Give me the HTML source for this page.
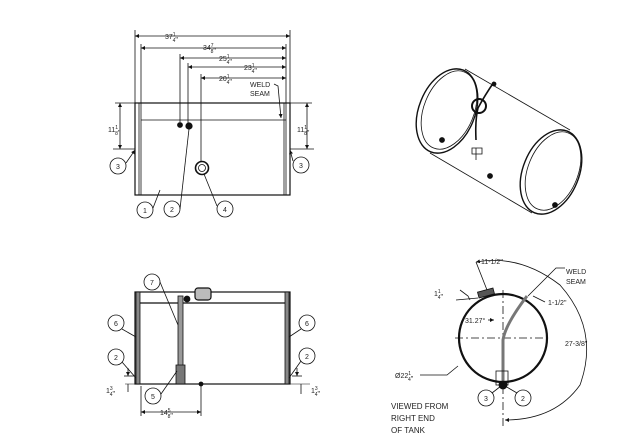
<!DOCTYPE html>
<html><head><style>
html,body{margin:0;padding:0;background:#fff;width:640px;height:436px;overflow:hidden}
svg{display:block;font-family:"Liberation Sans",sans-serif}
text{font-size:7px;fill:#222}
.f{font-size:5px}
</style></head><body>
<svg width="640" height="436" viewBox="0 0 640 436" xmlns="http://www.w3.org/2000/svg">
<defs><marker id="a" viewBox="0 0 6 6" refX="6" refY="3" markerWidth="5" markerHeight="5" orient="auto-start-reverse"><path d="M0,0L6,3L0,6z" fill="#111"/></marker></defs>
<g stroke="#111" fill="none" stroke-width="0.8">
<!-- TOP VIEW -->
<rect x="135" y="103" width="155" height="92" stroke-width="1.2"/>
<line x1="139" y1="103" x2="139" y2="195"/><line x1="141" y1="103" x2="141" y2="195"/>
<line x1="286" y1="103" x2="286" y2="195"/><line x1="284" y1="103" x2="284" y2="195"/>
<line x1="115" y1="103" x2="312" y2="103"/>
<line x1="141" y1="120" x2="286" y2="120"/>
<line x1="135" y1="30" x2="135" y2="103"/><line x1="290" y1="30" x2="290" y2="103"/>
<line x1="141" y1="44" x2="141" y2="103"/><line x1="286" y1="44" x2="286" y2="103"/>
<line x1="180" y1="54" x2="180" y2="122"/><line x1="188" y1="63" x2="188" y2="124"/><line x1="201" y1="74" x2="201" y2="162"/>
<line x1="135" y1="36" x2="290" y2="36" marker-start="url(#a)" marker-end="url(#a)"/>
<line x1="141" y1="48" x2="286" y2="48" marker-start="url(#a)" marker-end="url(#a)"/>
<line x1="180" y1="58" x2="286" y2="58" marker-start="url(#a)" marker-end="url(#a)"/>
<line x1="188" y1="67" x2="286" y2="67" marker-start="url(#a)" marker-end="url(#a)"/>
<line x1="201" y1="78" x2="286" y2="78" marker-start="url(#a)" marker-end="url(#a)"/>
<circle cx="180" cy="125" r="2.5" fill="#111"/><circle cx="189" cy="126" r="3.2" fill="#111"/>
<circle cx="202" cy="168" r="6.5" stroke-width="1.6"/><circle cx="202" cy="168" r="3.5"/>
<line x1="120" y1="103" x2="120" y2="149" marker-start="url(#a)" marker-end="url(#a)"/>
<line x1="113" y1="149" x2="135" y2="149"/>
<line x1="307" y1="103" x2="307" y2="149" marker-start="url(#a)" marker-end="url(#a)"/>
<line x1="290" y1="149" x2="314" y2="149"/>
<path d="M274,84 L278,86 L281,118" marker-end="url(#a)"/>
<circle cx="118" cy="166" r="8"/><path d="M126,163 L135,150" marker-end="url(#a)"/>
<circle cx="301" cy="165" r="8"/><path d="M293,161 L290,150" marker-end="url(#a)"/>
<circle cx="145" cy="210" r="8"/><path d="M153,208 L160,190"/>
<circle cx="172" cy="209" r="8"/><path d="M180,209 L189,129"/>
<circle cx="225" cy="209" r="8"/><path d="M217,206 L204,174"/>
<!-- BOTTOM VIEW -->
<rect x="135" y="292" width="155" height="92" stroke-width="1.2"/>
<rect x="136" y="292" width="4" height="92" fill="#888"/><rect x="285" y="292" width="4" height="92" fill="#888"/>
<line x1="140" y1="303" x2="285" y2="303" stroke-width="1.2"/>
<rect x="178" y="296" width="5" height="88" fill="#999"/>
<rect x="176" y="365" width="9" height="19" fill="#777"/>
<rect x="195" y="288" width="16" height="12" rx="3" fill="#bbb" stroke-width="1.2"/>
<circle cx="187" cy="299" r="3" fill="#111"/>
<circle cx="201" cy="384" r="2" fill="#111"/>
<circle cx="152" cy="282" r="8"/><path d="M160,282 L178,325"/>
<circle cx="116" cy="323" r="8"/><path d="M122,329 L136,337"/>
<circle cx="116" cy="357" r="8"/><path d="M122,362 L136,378"/>
<circle cx="307" cy="323" r="8"/><path d="M301,329 L289,337"/>
<circle cx="307" cy="356" r="8"/><path d="M301,361 L289,378"/>
<circle cx="153" cy="396" r="8"/><path d="M161,394 L177,371"/>
<line x1="128" y1="384" x2="128" y2="392"/><line x1="124" y1="376" x2="134" y2="376"/><line x1="128" y1="368" x2="128" y2="376" marker-end="url(#a)"/>
<line x1="297" y1="368" x2="297" y2="376" marker-end="url(#a)"/><line x1="292" y1="376" x2="302" y2="376"/><line x1="301" y1="384" x2="301" y2="394"/>
<line x1="125" y1="384" x2="310" y2="384" stroke-width="0.5"/>
<line x1="141" y1="386" x2="141" y2="416"/><line x1="201" y1="386" x2="201" y2="416"/>
<line x1="141" y1="412" x2="201" y2="412" marker-start="url(#a)" marker-end="url(#a)"/>
<!-- ISO -->
<ellipse cx="447" cy="111" rx="28" ry="44" transform="rotate(22 447 111)" stroke-width="1.4"/>
<ellipse cx="449" cy="110" rx="25" ry="41" transform="rotate(22 449 110)"/>
<ellipse cx="551" cy="172" rx="28" ry="44" transform="rotate(22 551 172)" stroke-width="1.4"/>
<ellipse cx="553" cy="171" rx="25" ry="41" transform="rotate(22 553 171)"/>
<line x1="465" y1="69" x2="570" y2="130"/>
<line x1="430" y1="153" x2="532" y2="213"/>
<path d="M494,82 Q485,95 478,108 Q475,120 476,140" stroke-width="1.6"/>
<circle cx="479" cy="106" r="7" stroke-width="2"/>
<path d="M472,148 h10 v6 h-10 z M476,148 v12"/>
<circle cx="442" cy="140" r="2.5" fill="#111"/><circle cx="490" cy="176" r="2.5" fill="#111"/><circle cx="555" cy="205" r="2.5" fill="#111"/>
<circle cx="494" cy="84" r="2" fill="#111"/>
<!-- END VIEW -->
<circle cx="503" cy="338" r="44" stroke-width="2.2"/>
<line x1="455" y1="338" x2="551" y2="338" stroke-dasharray="8,3,2,3"/>
<line x1="503" y1="290" x2="503" y2="426" stroke-dasharray="8,3,2,3"/>
<path d="M503,385 L503,340 Q505,325 527,296" stroke="#777" stroke-width="3"/>
<rect x="496" y="371" width="12" height="14"/>
<circle cx="503" cy="385" r="4" fill="#111"/>
<rect x="478" y="290" width="16" height="6" fill="#555" transform="rotate(-15 486 293)"/>
<line x1="476" y1="262" x2="487" y2="290"/>
<path d="M476,262 Q520,254 560,285 Q600,330 580,385 Q555,420 505,420" marker-start="url(#a)" marker-end="url(#a)"/>
<path d="M565,268 L556,268 L528,296"/>
<path d="M460,290 L468,296 L470,300 M456,300 L478,298"/>
<path d="M533,296 L545,302"/>
<path d="M488,320 L494,320" marker-end="url(#a)"/>
<path d="M420,375 L447,375 L458,366"/>
<circle cx="486" cy="398" r="8"/><path d="M492,393 L501,386"/>
<circle cx="523" cy="398" r="8"/><path d="M517,393 L505,386"/>
</g>
<g>
<text x="165" y="39">37<tspan class="f" dy="-3">1</tspan><tspan class="f" dx="-3" dy="6">4</tspan>"</text>
<text x="203" y="50">34<tspan class="f" dy="-3">7</tspan><tspan class="f" dx="-3" dy="6">8</tspan>"</text>
<text x="219" y="61">25<tspan class="f" dy="-3">1</tspan><tspan class="f" dx="-3" dy="6">4</tspan>"</text>
<text x="244" y="70">23<tspan class="f" dy="-3">1</tspan><tspan class="f" dx="-3" dy="6">4</tspan>"</text>
<text x="219" y="81">20<tspan class="f" dy="-3">1</tspan><tspan class="f" dx="-3" dy="6">4</tspan>"</text>
<text x="250" y="87">WELD</text><text x="250" y="96">SEAM</text>
<text x="108" y="132">11<tspan class="f" dy="-3">1</tspan><tspan class="f" dx="-3" dy="6">8</tspan>"</text>
<text x="297" y="132">11<tspan class="f" dy="-3">1</tspan><tspan class="f" dx="-3" dy="6">8</tspan>"</text>
<g text-anchor="middle">
<text x="118" y="169">3</text><text x="301" y="168">3</text><text x="145" y="213">1</text><text x="172" y="212">2</text><text x="225" y="212">4</text>
<text x="152" y="285">7</text><text x="116" y="326">6</text><text x="116" y="360">2</text><text x="307" y="326">6</text><text x="307" y="359">2</text><text x="153" y="399">5</text>
<text x="486" y="401">3</text><text x="523" y="401">2</text>
</g>
<text x="106" y="393">1<tspan class="f" dy="-3">3</tspan><tspan class="f" dx="-3" dy="6">4</tspan>"</text>
<text x="311" y="393">1<tspan class="f" dy="-3">3</tspan><tspan class="f" dx="-3" dy="6">4</tspan>"</text>
<text x="160" y="415">14<tspan class="f" dy="-3">5</tspan><tspan class="f" dx="-3" dy="6">8</tspan>"</text>
<text x="481" y="264">11-1/2"</text>
<text x="566" y="274">WELD</text><text x="566" y="284">SEAM</text>
<text x="548" y="305">1-1/2"</text>
<text x="465" y="323">31.27°</text>
<text x="565" y="346">27-3/8"</text>
<text x="434" y="296">1<tspan class="f" dy="-3">1</tspan><tspan class="f" dx="-3" dy="6">4</tspan>"</text>
<text x="395" y="378">Ø22<tspan class="f" dy="-3">1</tspan><tspan class="f" dx="-3" dy="6">4</tspan>"</text>
<text x="391" y="409" style="font-size:8px">VIEWED FROM</text>
<text x="391" y="421" style="font-size:8px">RIGHT END</text>
<text x="391" y="433" style="font-size:8px">OF TANK</text>
</g>
</svg>
</body></html>
